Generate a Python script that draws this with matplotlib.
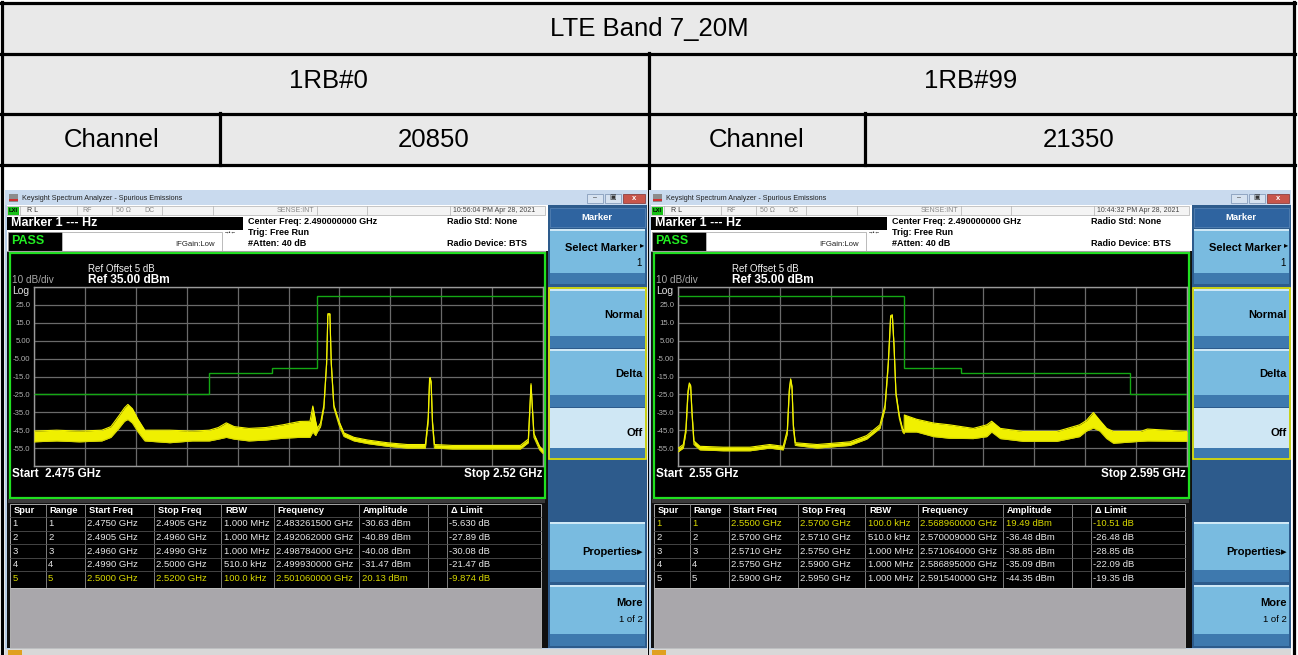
import numpy as np
import matplotlib.pyplot as plt
from matplotlib.patches import Rectangle

plt.rcParams['font.family'] = ['Liberation Sans', 'DejaVu Sans']

W, H = 1298, 655

# report table text
title = "LTE Band 7_20M"
rb_labels = ["1RB#0", "1RB#99"]
channels = ["20850", "21350"]

# analyzer screens
times = ["10:56:04 PM Apr 28, 2021", "10:44:32 PM Apr 28, 2021"]
spans = [(2.475, 2.52), (2.55, 2.595)]
start_labels = ["Start  2.475 GHz", "Start  2.55 GHz"]
stop_labels = ["Stop 2.52 GHz", "Stop 2.595 GHz"]
y_ticks = [35, 25, 15, 5, -5, -15, -25, -35, -45, -55, -65]
y_labels = ["", "25.0", "15.0", "5.00", "-5.00", "-15.0", "-25.0", "-35.0", "-45.0", "-55.0", ""]

# limit lines (range edges in GHz, limit in dBm)
limit_edges_l = [2.475, 2.4905, 2.496, 2.499, 2.5, 2.52]
limit_vals_l = [-25, -13, -10, -10, 30]
limit_edges_r = [2.55, 2.57, 2.571, 2.575, 2.59, 2.595]
limit_vals_r = [30, -10, -10, -13, -25]

# trace envelopes (GHz, low dBm, high dBm)
trace_f_l = [2.4750, 2.4770, 2.4790, 2.4810, 2.4818, 2.4825, 2.4830, 2.4833, 2.4837, 2.4842,
             2.4848, 2.4870, 2.4890, 2.4905, 2.4913, 2.4920, 2.4927, 2.4940, 2.4955, 2.4970,
             2.4985, 2.4994, 2.49965, 2.4999, 2.50005, 2.50033, 2.50063, 2.50087, 2.50098, 2.50116,
             2.50128, 2.50151, 2.50196, 2.5024, 2.50329, 2.5045, 2.50624, 2.5080, 2.5096, 2.50985,
             2.50997, 2.51003, 2.51011, 2.51023, 2.5104, 2.5120, 2.5150, 2.5180, 2.5187, 2.51894,
             2.5192, 2.5197, 2.5200]
trace_lo_l = [-51.5, -51, -51.5, -51, -49, -44, -40, -39, -41, -46,
              -51, -52, -51, -51, -50, -49, -50, -51, -50.5, -49.5,
              -49, -49, -46, -48, -46, -43, -32.5, -8, 19.5, 19.5,
              -8, -32.5, -42, -48.5, -51, -52.5, -54, -55, -55, -40,
              -18, -16.5, -20, -42, -55, -55.5, -55.5, -55.5, -52, -20,
              -49, -56, -58]
trace_hi_l = [-45.5, -45, -45.5, -45, -43, -37, -32.5, -30.6, -33, -39,
              -45, -45, -45.5, -45, -43.5, -40.9, -43, -44, -43.5, -42,
              -40.1, -40, -31.5, -40, -44, -41, -31, -7, 20.1, 20.1,
              -7, -31, -40, -46.5, -49, -50.5, -52, -53, -53, -38,
              -16, -15.6, -18, -40, -53, -53.5, -53.5, -53.5, -50, -19,
              -47, -54, -56]

trace_f_r = [2.55003, 2.55047, 2.5507, 2.55088, 2.5510, 2.55112, 2.55124, 2.55141, 2.55194, 2.5540,
             2.55637, 2.5581, 2.5593, 2.55966, 2.55984, 2.55996, 2.56008, 2.5602, 2.56037, 2.5623,
             2.5652, 2.56668, 2.56785, 2.5683, 2.56859, 2.5688, 2.56895, 2.5691, 2.56927, 2.56957,
             2.56987, 2.56999, 2.57001, 2.5711, 2.5726, 2.5740, 2.5761, 2.5773, 2.57773, 2.5785,
             2.5805, 2.5835, 2.5855, 2.5861, 2.58672, 2.5873, 2.5879, 2.5885, 2.5909, 2.5915,
             2.5950]
trace_lo_r = [-57, -55, -46, -25, -19.5, -21, -36.5, -53, -56, -56.5,
              -56.5, -55, -56, -47, -23.5, -17, -22, -44, -53.5, -55,
              -53.5, -50, -44, -33, -8.5, 18, 18.8, 1, -25.5, -38.5,
              -46, -47, -46, -46, -48.6, -49.5, -49.7, -48.6, -46, -49.7,
              -51.2, -51.2, -48.6, -45.5, -43.8, -45.5, -49.7, -52.3, -51.2, -51,
              -51.2]
trace_hi_r = [-55, -53, -44, -23, -18.6, -20, -35, -51, -54, -54.5,
              -54.5, -53, -54, -45, -22, -16.3, -20.5, -42, -52, -53,
              -51.5, -48, -42, -31, -7, 19, 19.49, 2.5, -24, -37,
              -44.5, -45, -36.5, -38.9, -41, -42, -44, -42, -40, -44,
              -45.7, -45.7, -42, -39.6, -35.1, -39.6, -44, -45.7, -45.7, -44.35,
              -45.7]

# spurious emission result tables
spur_cols = ["Spur", "Range", "Start Freq", "Stop Freq", "RBW", "Frequency", "Amplitude", "", "\u0394 Limit"]
spurs_l = [
    ["1", "1", "2.4750 GHz", "2.4905 GHz", "1.000 MHz", "2.483261500 GHz", "-30.63 dBm", "", "-5.630 dB"],
    ["2", "2", "2.4905 GHz", "2.4960 GHz", "1.000 MHz", "2.492062000 GHz", "-40.89 dBm", "", "-27.89 dB"],
    ["3", "3", "2.4960 GHz", "2.4990 GHz", "1.000 MHz", "2.498784000 GHz", "-40.08 dBm", "", "-30.08 dB"],
    ["4", "4", "2.4990 GHz", "2.5000 GHz", "510.0 kHz", "2.499930000 GHz", "-31.47 dBm", "", "-21.47 dB"],
    ["5", "5", "2.5000 GHz", "2.5200 GHz", "100.0 kHz", "2.501060000 GHz", "20.13 dBm", "", "-9.874 dB"],
]
spurs_r = [
    ["1", "1", "2.5500 GHz", "2.5700 GHz", "100.0 kHz", "2.568960000 GHz", "19.49 dBm", "", "-10.51 dB"],
    ["2", "2", "2.5700 GHz", "2.5710 GHz", "510.0 kHz", "2.570009000 GHz", "-36.48 dBm", "", "-26.48 dB"],
    ["3", "3", "2.5710 GHz", "2.5750 GHz", "1.000 MHz", "2.571064000 GHz", "-38.85 dBm", "", "-28.85 dB"],
    ["4", "4", "2.5750 GHz", "2.5900 GHz", "1.000 MHz", "2.586895000 GHz", "-35.09 dBm", "", "-22.09 dB"],
    ["5", "5", "2.5900 GHz", "2.5950 GHz", "1.000 MHz", "2.591540000 GHz", "-44.35 dBm", "", "-19.35 dB"],
]
highlight = [4, 0]

fig = plt.figure(figsize=(W / 100, H / 100), dpi=100)
bg = fig.add_axes([0, 0, 1, 1])
bg.set_xlim(0, W)
bg.set_ylim(H, 0)
bg.axis('off')


def rect(x0, y0, x1, y1, fc, ec='none', lw=0, z=1):
    bg.add_patch(Rectangle((x0, y0), x1 - x0, y1 - y0, facecolor=fc, edgecolor=ec, linewidth=lw, zorder=z))


def text(x, y, s, size, color='black', weight='normal', ha='left', z=6):
    bg.text(x, y, s, fontsize=size, color=color, fontweight=weight, ha=ha, va='center', zorder=z)


# ---- report table ----
rect(2, 2, 1294, 165, '#e9e9e9')
rect(2, 165, 1294, 655, 'white')
for y in [3, 53.5, 113.5, 165]:
    bg.plot([1, 1295], [y, y], color='black', lw=2.3, zorder=2)
bg.plot([2, 2], [2, 655], color='black', lw=2.3, zorder=2)
bg.plot([1294, 1294], [2, 655], color='black', lw=2.3, zorder=2)
bg.plot([649, 649], [53, 655], color='black', lw=2.3, zorder=2)
bg.plot([220, 220], [113, 165], color='black', lw=2.3, zorder=2)
bg.plot([865, 865], [113, 165], color='black', lw=2.3, zorder=2)
text(649, 29, title, 18.5, ha='center')
text(328, 81, rb_labels[0], 18.5, ha='center')
text(971, 81, rb_labels[1], 18.5, ha='center')
text(112, 140, "Channel", 18.5, ha='center')
text(434, 140, channels[0], 18.5, ha='center')
text(757, 140, "Channel", 18.5, ha='center')
text(1079, 140, channels[1], 18.5, ha='center')


def button(dx, y0, y1, fc='#79bbe0', label=None, ty=None):
    rect(550 + dx, y0, 645 + dx, y1, '#3e79ae', z=3)
    rect(550 + dx, y0, 645 + dx, y1 - (y1 - y0) * 0.2, fc, z=3)
    rect(550 + dx, y0, 645 + dx, y0 + 2, '#cfe8f6', z=3)


def screen(k, dx, f, lo, hi, edges, limits, rows):
    # window frame and title bar
    rect(5 + dx, 190, 647 + dx, 655, '#b9cfe8', z=3)
    rect(5 + dx, 190, 647 + dx, 205, '#c9daee', z=3)
    rect(9 + dx, 194, 18 + dx, 202, '#8c8c8c', z=4)
    rect(9 + dx, 199, 18 + dx, 200.5, '#d03030', z=4)
    text(22 + dx, 198, "Keysight Spectrum Analyzer - Spurious Emissions", 5.2, '#222222')
    rect(587 + dx, 193.5, 603 + dx, 202.5, '#d6e2f0', ec='#7890b0', lw=0.5, z=4)
    rect(605 + dx, 193.5, 621 + dx, 202.5, '#d6e2f0', ec='#7890b0', lw=0.5, z=4)
    rect(623 + dx, 193.5, 645 + dx, 202.5, '#c8564b', ec='#803030', lw=0.5, z=4)
    text(595 + dx, 198, "\u2013", 5, '#333333', ha='center')
    text(613 + dx, 198, "\u25a3", 5, '#333333', ha='center')
    text(634 + dx, 198, "x", 5.5, 'white', 'bold', ha='center')

    # screen body
    rect(7 + dx, 205, 548 + dx, 648, '#101010', z=3)
    rect(7 + dx, 205, 548 + dx, 251, 'white', z=3)
    # status row
    rect(7 + dx, 206, 545 + dx, 215, '#f4f4f4', ec='#b0b0b0', lw=0.5, z=4)
    for x in [20, 77, 112, 162, 213, 317, 367, 450]:
        bg.plot([x + dx, x + dx], [206, 215], color='#b0b0b0', lw=0.5, zorder=5)
    rect(8 + dx, 206.5, 19 + dx, 214.5, '#18c018', z=5)
    text(9 + dx, 210.5, "LXI", 4.2, 'black', 'bold')
    text(27 + dx, 210.5, "R L", 5, '#333333')
    text(82 + dx, 210.5, "RF", 5, '#888888')
    text(116 + dx, 210.5, "50 \u03a9", 5, '#888888')
    text(144 + dx, 210.5, "DC", 5, '#888888')
    text(277 + dx, 210.5, "SENSE:INT", 5, '#888888')
    text(453 + dx, 210.5, times[k], 5, '#444444')
    # marker / pass boxes
    rect(7 + dx, 216.5, 243 + dx, 229.5, 'black', z=4)
    text(11 + dx, 223, "Marker 1 --- Hz", 9, 'white', 'bold')
    rect(8 + dx, 231.5, 62 + dx, 250.5, 'black', ec='#909090', lw=0.6, z=4)
    text(11 + dx, 240.5, "PASS", 9, '#22ee22', 'bold')
    rect(62 + dx, 231.5, 222 + dx, 250.5, 'white', ec='#b0b0b0', lw=0.6, z=4)
    text(175 + dx, 244.5, "IFGain:Low", 5.6, '#222222')
    text(230 + dx, 233, "\u2192\u2022\u2190", 4, '#222222', ha='center')
    text(248 + dx, 222, "Center Freq: 2.490000000 GHz", 6.5, 'black', 'bold')
    text(248 + dx, 232.5, "Trig: Free Run", 6.5, 'black', 'bold')
    text(248 + dx, 243.5, "#Atten: 40 dB", 6.5, 'black', 'bold')
    text(447 + dx, 222, "Radio Std: None", 6.5, 'black', 'bold')
    text(447 + dx, 243.5, "Radio Device: BTS", 6.5, 'black', 'bold')
    bg.plot([7 + dx, 545 + dx], [250.8, 250.8], color='#a0a0a0', lw=0.8, zorder=5)

    # plot box
    rect(10 + dx, 253, 544.5 + dx, 497.5, 'black', ec='#20e020', lw=1.6, z=4)
    text(12 + dx, 280, "10 dB/div", 7.2, '#a8a8a8')
    text(12 + dx, 290.5, "Log", 7.4, '#e0e0e0')
    text(88 + dx, 269, "Ref Offset 5 dB", 7, '#f0f0f0')
    text(88 + dx, 280, "Ref 35.00 dBm", 8.6, 'white', 'bold')
    text(12 + dx, 474, start_labels[k], 8.4, 'white', 'bold')
    text(542 + dx, 474, stop_labels[k], 8.4, 'white', 'bold', ha='right')

    ax = fig.add_axes([(34 + dx) / W, 1 - 466 / H, 509 / W, (466 - 287) / H])
    ax.set_facecolor('black')
    ax.set_xlim(*spans[k])
    ax.set_ylim(-65, 35)
    ax.set_xticks(np.linspace(spans[k][0], spans[k][1], 11))
    ax.set_xticklabels([])
    ax.set_yticks(y_ticks)
    ax.set_yticklabels(y_labels, fontsize=5.6, color='#b0b0b0')
    ax.tick_params(length=0, pad=2.5)
    ax.grid(True, color='#6a6a6a', lw=0.9)
    for s in ax.spines.values():
        s.set_color('#9a9a9a')
        s.set_linewidth(1.0)
    ax.stairs(limits, edges, baseline=None, color='#14a814', lw=1.0, zorder=3)
    ax.fill_between(f, lo, hi, color='#f0f000', lw=0, zorder=4)
    ax.plot(f, lo, color='#d8d800', lw=0.8, zorder=4)
    ax.plot(f, hi, color='#f4f400', lw=0.8, zorder=4)

    # spur table
    rect(8 + dx, 498.5, 545 + dx, 503, '#3a3a3a', z=4)
    rect(10 + dx, 503.5, 541 + dx, 588, 'black', ec='#c0c0c0', lw=0.6, z=4)
    rect(10 + dx, 588, 541 + dx, 648, '#a9a7ab', ec='#c0c0c0', lw=0.6, z=4)
    col_x = [10, 45.6, 84.9, 153.8, 221.3, 273.6, 359, 427.9, 446.8]
    for x in col_x[1:]:
        bg.plot([x + dx, x + dx], [504, 587], color='#909090', lw=0.6, zorder=5)
    for y in [517, 530.5, 544, 557.5, 571]:
        bg.plot([10 + dx, 541 + dx], [y, y], color='#505050', lw=0.6, zorder=5)
    for j, c in enumerate(spur_cols):
        text(col_x[j] + 4 + dx, 510.5, c, 6.7, 'white', 'bold')
    for i, row in enumerate(rows):
        col = '#d8d800' if i == highlight[k] else '#e6e6e6'
        for j, v in enumerate(row):
            text(col_x[j] + 2.5 + dx, 524 + 13.6 * i, v, 6.8, col)

    # soft keys
    rect(548 + dx, 205, 647 + dx, 648, '#2d5b8c', z=3)
    rect(550 + dx, 208, 645 + dx, 227, '#2f64a0', ec='#5a86b8', lw=0.5, z=4)
    text(597 + dx, 217.5, "Marker", 6.8, 'white', 'bold', ha='center')
    button(dx, 229, 284)
    text(637 + dx, 248, "Select Marker", 8, 'black', 'bold', ha='right')
    text(644 + dx, 246, "\u25b8", 6, 'black', ha='right')
    text(642 + dx, 263, "1", 7, 'black', ha='right')
    rect(549 + dx, 287.5, 645.5 + dx, 459, 'none', ec='#e8e800', lw=1.2, z=6)
    button(dx, 289, 348)
    text(643 + dx, 315, "Normal", 8, 'black', 'bold', ha='right')
    button(dx, 349, 407)
    text(643 + dx, 374, "Delta", 8, 'black', 'bold', ha='right')
    button(dx, 408, 458, fc='#cfe7f4')
    text(643 + dx, 433, "Off", 8, 'black', 'bold', ha='right')
    button(dx, 522, 582)
    text(643 + dx, 552, "Properties\u25b8", 8, 'black', 'bold', ha='right')
    button(dx, 585, 646)
    text(643 + dx, 603, "More", 8, 'black', 'bold', ha='right')
    text(643 + dx, 620, "1 of 2", 6.8, 'black', ha='right')

    # bottom status strip
    rect(5 + dx, 649, 647 + dx, 655, '#d8d8d8', z=3)
    rect(8 + dx, 650, 22 + dx, 655, '#e0a020', z=4)


screen(0, 0, trace_f_l, trace_lo_l, trace_hi_l, limit_edges_l, limit_vals_l, spurs_l)
screen(1, 644, trace_f_r, trace_lo_r, trace_hi_r, limit_edges_r, limit_vals_r, spurs_r)

fig.savefig('out.png', dpi=100)
